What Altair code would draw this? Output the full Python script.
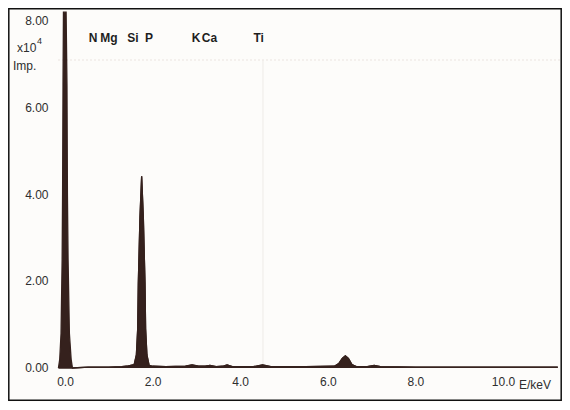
import altair as alt
import pandas as pd

# ---- spectrum data (energy in keV, counts in x10^4 Imp.) ----
seg_id = [0] * 14 + [1] * 44
energy = [
    -0.15, -0.12, -0.09, -0.065, -0.055, -0.045, -0.035, 0.025, 0.045, 0.055, 0.07, 0.10, 0.14, 0.17,
    0.53, 1.00, 1.30, 1.45, 1.58, 1.63, 1.66, 1.674, 1.712, 1.75, 1.788, 1.826, 1.84, 1.87,
    1.92, 2.00, 2.30, 2.75, 2.90, 3.05, 3.20, 3.31, 3.45, 3.60, 3.70, 3.82,
    4.30, 4.51, 4.70, 5.50, 6.15, 6.25, 6.33, 6.40, 6.47, 6.55, 6.65, 6.90,
    7.06, 7.20, 8.00, 9.00, 10.00, 11.25,
]
counts = [
    0.00, 0.20, 0.80, 2.50, 4.00, 6.50, 8.18, 8.18, 6.50, 4.00, 2.50, 0.80, 0.20, 0.00,
    0.02, 0.02, 0.03, 0.05, 0.08, 0.30, 0.90, 1.95, 3.47, 4.41, 3.47, 1.95, 0.90, 0.30,
    0.06, 0.04, 0.03, 0.04, 0.07, 0.04, 0.04, 0.06, 0.03, 0.04, 0.07, 0.03,
    0.03, 0.07, 0.03, 0.03, 0.04, 0.10, 0.22, 0.28, 0.22, 0.08, 0.03, 0.03,
    0.06, 0.03, 0.02, 0.02, 0.02, 0.02,
]

element_names = ["N", "Mg", "Si", "P", "K", "Ca", "Ti"]
element_pos = [0.64, 1.00, 1.55, 1.92, 2.99, 3.30, 4.42]

x_ticks = [0, 2, 4, 6, 8, 10]
y_ticks = [0, 2, 4, 6, 8]

grid_h = [7.08]
grid_v = [4.52]

spec = pd.DataFrame({"seg": seg_id, "E": energy, "I": counts})
elems = pd.DataFrame({"name": element_names, "E": element_pos})

INK = "#35211d"
TXT = "#2e2e2e"
FONT = "Liberation Sans"

xscale = alt.Scale(domain=[-0.1826, 11.301], nice=False, zero=False)
yscale = alt.Scale(domain=[-0.138, 8.230], nice=False, zero=False)

xaxis = alt.Axis(values=x_ticks, format=".1f", title=None, domain=False, ticks=False,
                 grid=False, labelFontSize=12, labelColor=TXT, labelFont=FONT,
                 labelPadding=2)
yaxis = alt.Axis(values=y_ticks, format=".2f", title=None, domain=False, ticks=False,
                 grid=False, labelFontSize=12, labelColor=TXT, labelFont=FONT,
                 labelPadding=9)

one = pd.DataFrame({"k": [0]})

hgrid = alt.Chart(pd.DataFrame({"v": grid_h})).mark_rule(
    color="#ebe4e0", strokeWidth=1.2, strokeDash=[2, 2]
).encode(y=alt.Y("v:Q", scale=yscale, axis=yaxis))

vgrid = alt.Chart(pd.DataFrame({"e": grid_v})).mark_rule(
    color="#efebe7", strokeWidth=1
).encode(x=alt.X("e:Q", scale=xscale, axis=xaxis), y=alt.value(50), y2=alt.value(358))

area = alt.Chart(spec).mark_area(
    color=INK, opacity=1, interpolate="linear", line={"color": INK, "strokeWidth": 1.3}
).encode(
    x=alt.X("E:Q", scale=xscale, axis=xaxis),
    y=alt.Y("I:Q", scale=yscale, axis=yaxis),
    detail="seg:N",
)

labels = alt.Chart(elems).mark_text(
    font=FONT, fontSize=12, fontWeight="bold", color="#1e1e1e", baseline="middle", align="center"
).encode(x=alt.X("E:Q", scale=xscale), y=alt.value(28), text="name:N")

def txt(s, x, y, size=12, align="left"):
    return alt.Chart(one).mark_text(
        text=s, font=FONT, fontSize=size, color=TXT, align=align, baseline="middle"
    ).encode(x=alt.value(x), y=alt.value(y))

t1 = txt("x10", -40, 38)
t2 = txt("4", -20, 31, size=9)
t3 = txt("Imp.", -44, 56)
t4 = txt("E/keV", 462, 375)

frame = alt.Chart(one).mark_rect(fillOpacity=0, stroke="#111", strokeWidth=1.5).encode(
    x=alt.value(-48.2), x2=alt.value(504.2), y=alt.value(-1.2), y2=alt.value(390.2)
)

chart = alt.layer(hgrid, vgrid, area, labels, t1, t2, t3, t4, frame).properties(
    width=503,
    height=364,
    padding={"left": 49, "top": 2, "right": 2, "bottom": 28},
    autosize=alt.AutoSizeParams(type="none"),
    background="#fdfcfa",
).configure_view(strokeOpacity=0)

chart.save("out.html", embed_options={"renderer": "svg", "actions": False})
